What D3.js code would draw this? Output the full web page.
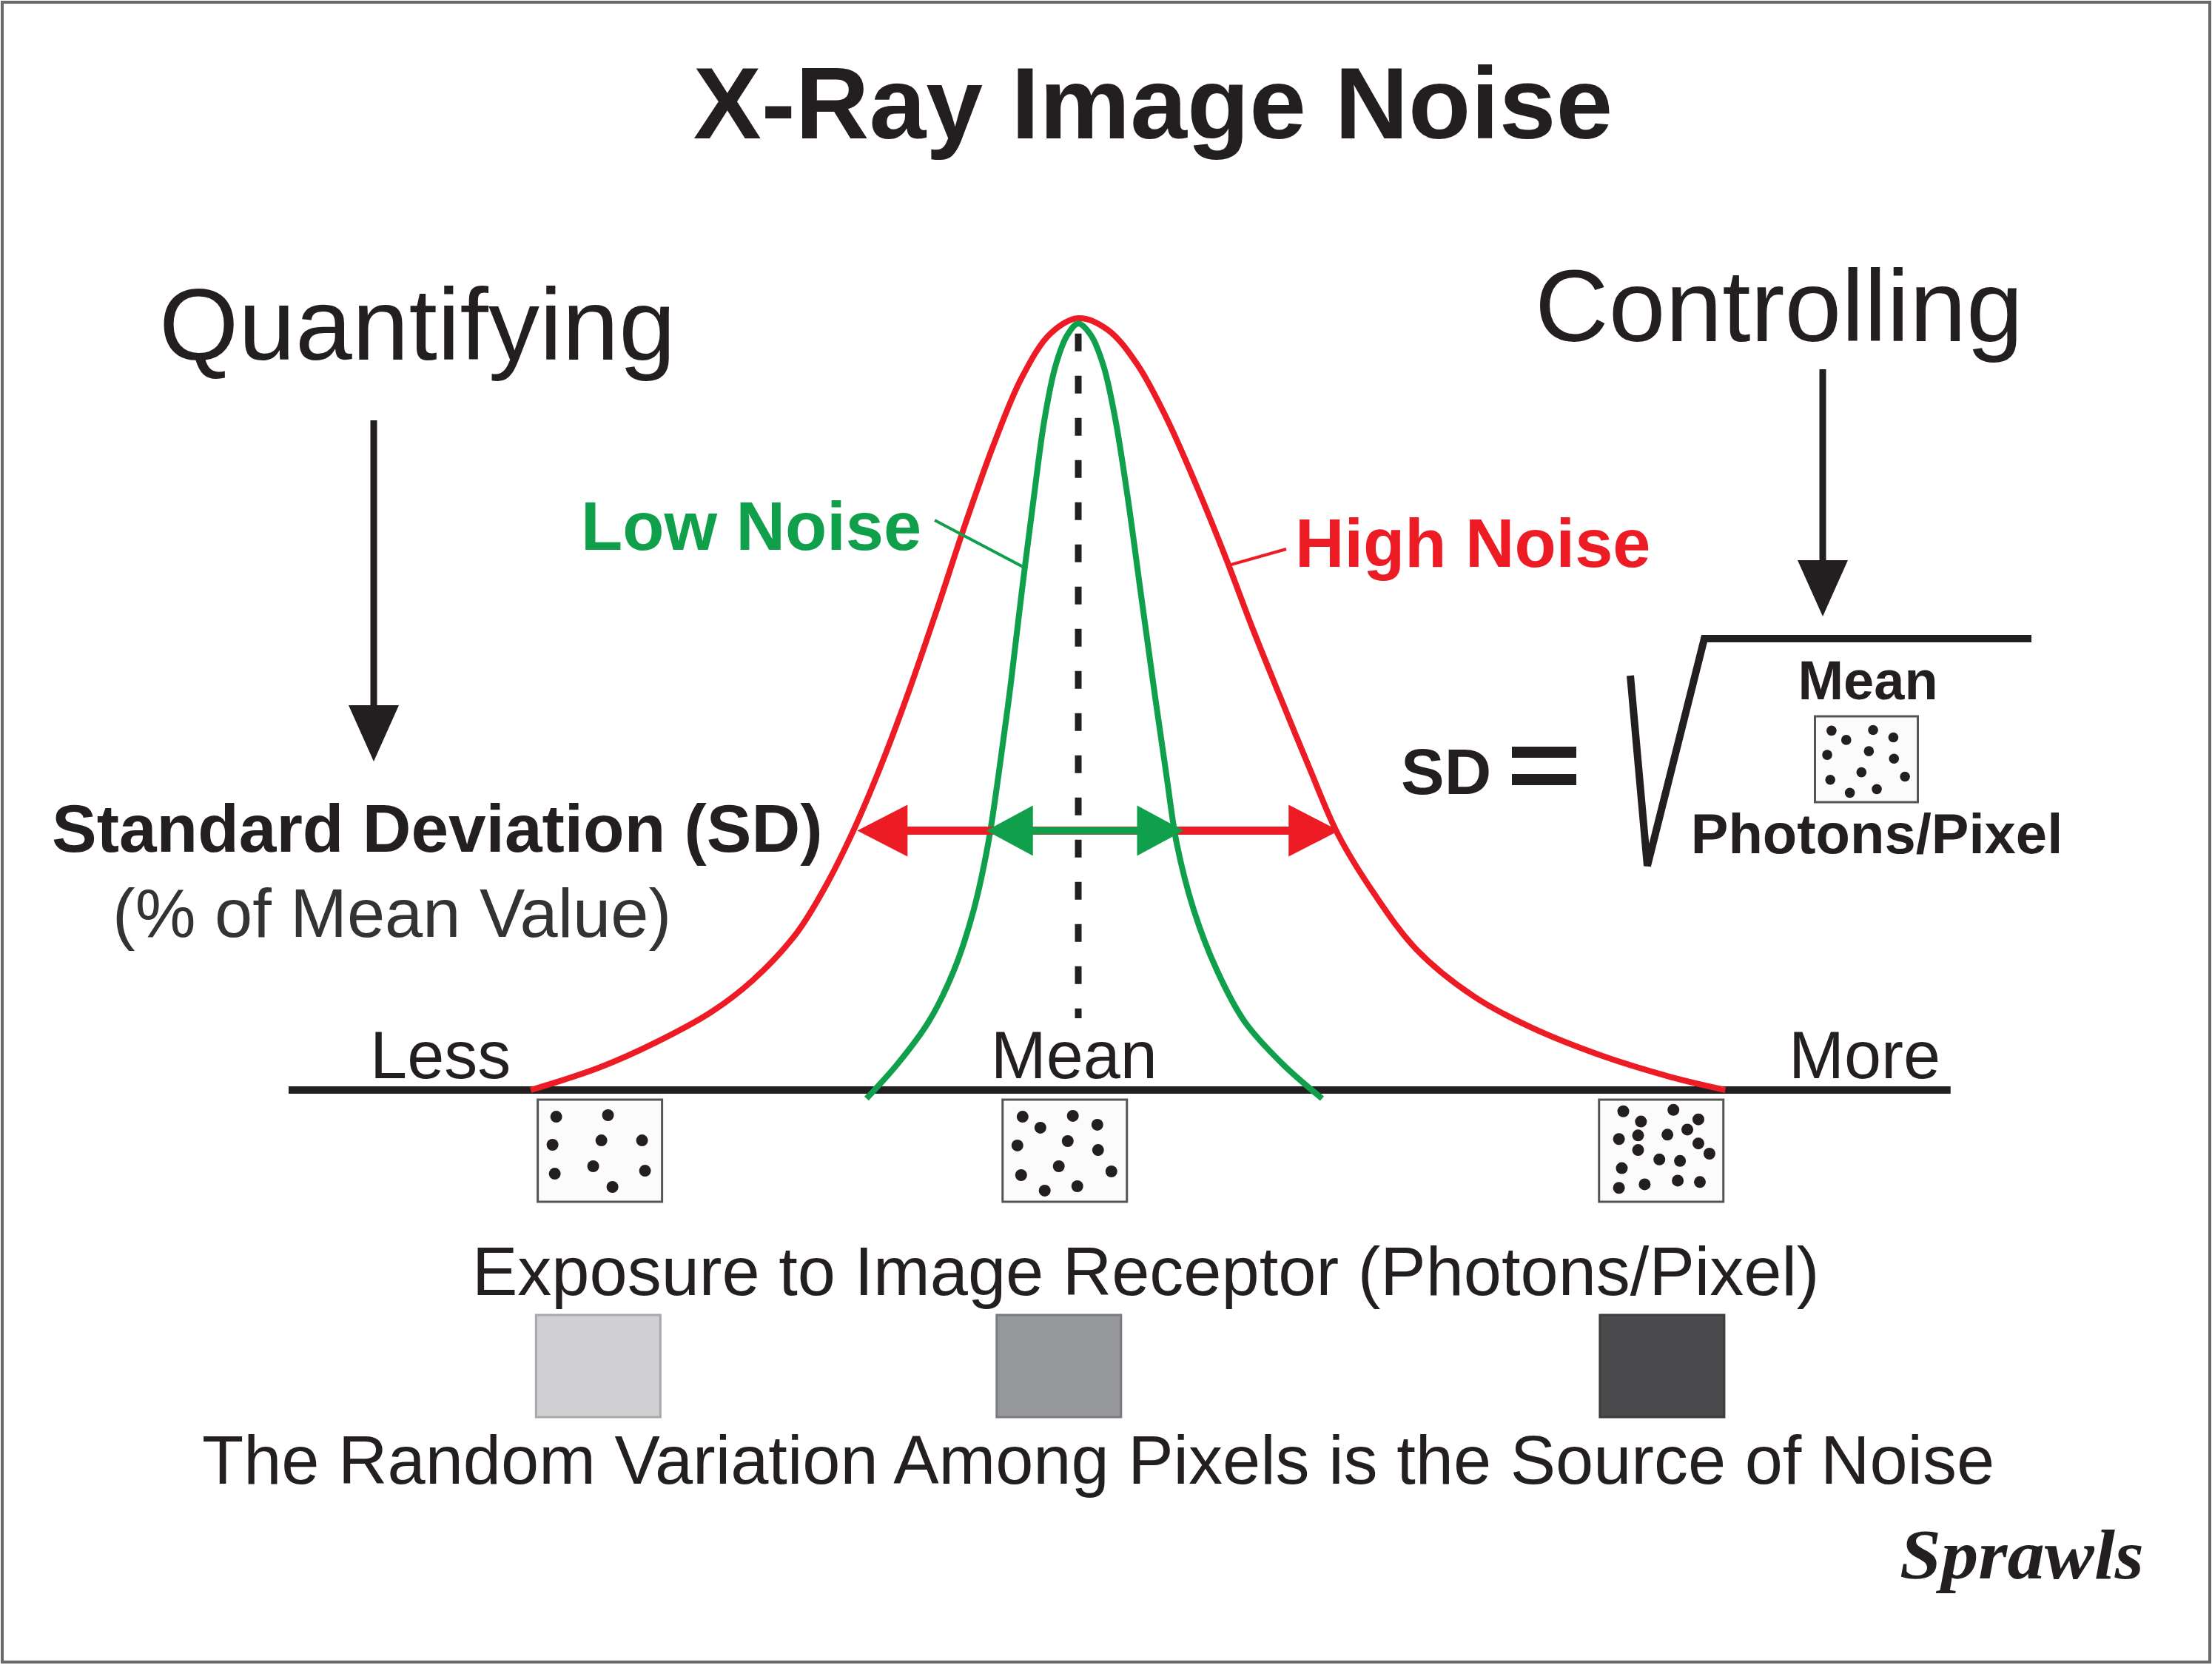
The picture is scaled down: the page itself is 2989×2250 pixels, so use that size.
<!DOCTYPE html>
<html>
<head>
<meta charset="utf-8">
<script src="https://cdn.jsdelivr.net/npm/d3@7"></script>
<style>
  body { margin: 0; background: #fff; }
  svg { display: block; }
</style>
</head>
<body>
<div id="chart"></div>
<script>
// exposure in photons/pixel (mean = 100) and relative frequency (% of peak)
const highNoiseExposure = [35.1, 43.2, 49.8, 56.5, 61.5, 66.6, 69.9, 73.3, 76.6, 79.9, 83.3, 86.6, 90.0, 93.3, 96.7, 100, 103.5, 107.0, 110.4, 113.9, 117.4, 120.7, 124.1, 127.3, 130.8, 135.1, 140.1, 146.8, 153.5, 161.9, 170.2, 176.7]
const highNoiseFreq = [0, 2.9, 6.1, 10.1, 14.3, 20.3, 26.1, 33.5, 42.0, 51.6, 62.4, 73.3, 83.7, 92.3, 98.0, 100, 98.5, 94.0, 87.2, 78.6, 69.2, 59.7, 50.5, 42.0, 33.1, 25.4, 18.2, 12.2, 8.2, 4.5, 1.7, 0]

const lowNoiseExposure = [74.9, 78.6, 82.3, 85.3, 87.6, 89.3, 90.6, 92.0, 93.3, 94.7, 96.0, 97.3, 98.7, 100, 101.5, 103.0, 104.4, 105.9, 107.4, 108.9, 110.4, 111.7, 113.7, 116.4, 119.7, 124.2, 128.9]
const lowNoiseFreq = [-1.1, 3.4, 8.9, 15.6, 23.3, 31.8, 41.2, 52.6, 64.5, 76.5, 86.9, 93.8, 97.8, 99.3, 97.8, 93.8, 86.9, 76.5, 64.5, 52.6, 41.2, 31.8, 23.3, 15.6, 8.9, 3.4, -1.1]

// standard deviation arrows (exposure at each end) and the level they are drawn at
const sdLevel = 33.6
const highNoiseSD = [73.8, 130.9]
const lowNoiseSD = [89.1, 112.5]
const meanExposure = 100
const meanLineFreq = [9.3, 98]

// the exposure axis
const axisExtent = [6.4, 203.4]
const axisLabels = ["Less", "Mean", "More"]
const axisLabelExposure = [24.4, 99.5, 193.2]

// sample pixel patches: Less / Mean / More exposure
const patchExposure = [43.3, 98.4, 169.1]
const grayExposure = [43.1, 97.7, 169.2]
const patchGrays = ["#d0d0d2", "#97989c", "#4b4b4d"]
const lessDots = [[14.9, 16.7], [56.5, 15.2], [11.9, 44.2], [51.2, 39.9], [83.9, 39.9], [13.7, 72.5], [44.6, 65.2], [86.3, 69.6], [60.1, 85.5]]
const meanDots = [[16.1, 16.7], [56.5, 15.9], [30.4, 27.5], [76.2, 24.6], [11.9, 44.9], [52.4, 40.6], [76.8, 49.3], [45.2, 65.2], [87.5, 70.3], [14.9, 73.9], [60.1, 84.8], [33.9, 89.1]]
const moreDots = [[19.5, 11.4], [59.8, 10.0], [33.7, 21.4], [79.9, 19.3], [16.0, 38.6], [31.4, 35.0], [55.0, 34.3], [71.0, 29.3], [79.9, 42.9], [31.4, 49.3], [88.8, 52.9], [48.5, 58.6], [65.1, 60.0], [18.3, 67.1], [63.3, 79.3], [81.1, 80.7], [16.0, 86.4], [36.7, 82.9]]
const patchDots = [lessDots, meanDots, moreDots]

const width = 2989
const height = 2250
const red = "#ed1c24"
const green = "#10a04b"
const ink = "#231f20"
const font = "'Liberation Sans', Arial, sans-serif"

const x = d3.scaleLinear().domain([0, 200]).range([317, 2597])
const y = d3.scaleLinear().domain([0, 100]).range([1473, 430])

const svg = d3.select("#chart").append("svg")
    .attr("width", width)
    .attr("height", height)
    .attr("viewBox", [0, 0, width, height])
    .style("font-family", font)

svg.append("rect")
    .attr("x", 3).attr("y", 3)
    .attr("width", width - 6).attr("height", height - 7)
    .attr("fill", "#fff")
    .attr("stroke", "#6a6a6a")
    .attr("stroke-width", 4)

// arrowhead helper: tip at (tx, ty), pointing along dir
function arrowHead(tx, ty, dx, dy, len, half) {
    const bx = tx - dx * len, by = ty - dy * len
    return `M${tx},${ty}L${bx - dy * half},${by + dx * half}L${bx + dy * half},${by - dx * half}Z`
}

function text(str, tx, ty, size, opts = {}) {
    return svg.append("text")
        .attr("x", tx).attr("y", ty)
        .attr("font-size", size)
        .attr("font-weight", opts.bold ? "bold" : "normal")
        .attr("text-anchor", opts.anchor || "start")
        .attr("fill", opts.fill || ink)
        .text(str)
}

// title and side headings
text("X-Ray Image Noise", 1558, 187, 138, { bold: true, anchor: "middle" })
text("Quantifying", 215, 486, 138)
text("Controlling", 2074, 461, 138)

// down arrows under the headings
const downArrows = [[505, 568, 1029], [2463, 499, 833]]
downArrows.forEach(([ax, y0, y1]) => {
    svg.append("line").attr("x1", ax).attr("x2", ax).attr("y1", y0).attr("y2", y1 - 60)
        .attr("stroke", ink).attr("stroke-width", 9)
    svg.append("path").attr("d", arrowHead(ax, y1, 0, 1, 76, 34)).attr("fill", ink)
})

text("Standard Deviation (SD)", 70, 1151, 91, { bold: true })
text("(% of Mean Value)", 152, 1266, 92, { fill: "#333" })

// exposure axis
svg.append("line")
    .attr("x1", x(axisExtent[0])).attr("x2", x(axisExtent[1]))
    .attr("y1", y(0)).attr("y2", y(0))
    .attr("stroke", ink).attr("stroke-width", 10)

svg.append("g").selectAll("text")
    .data(axisLabels)
    .join("text")
    .attr("x", (d, i) => x(axisLabelExposure[i]))
    .attr("y", y(0) - 16)
    .attr("text-anchor", "middle")
    .attr("font-size", 90)
    .attr("fill", ink)
    .text(d => d)

// distribution curves
const line = d3.line()
    .x(d => x(d[0]))
    .y(d => y(d[1]))
    .curve(d3.curveCatmullRom.alpha(0.5))

svg.append("path")
    .datum(d3.zip(highNoiseExposure, highNoiseFreq))
    .attr("d", line)
    .attr("fill", "none")
    .attr("stroke", red)
    .attr("stroke-width", 8)

svg.append("path")
    .datum(d3.zip(lowNoiseExposure, lowNoiseFreq))
    .attr("d", line)
    .attr("fill", "none")
    .attr("stroke", green)
    .attr("stroke-width", 8)

// mean line
svg.append("line")
    .attr("x1", x(meanExposure)).attr("x2", x(meanExposure))
    .attr("y1", y(meanLineFreq[1])).attr("y2", y(meanLineFreq[0]))
    .attr("stroke", ink)
    .attr("stroke-width", 9)
    .attr("stroke-dasharray", "24,33")

// SD arrows
function sdArrow(ends, color, len, half, thick) {
    const ay = y(sdLevel)
    svg.append("line")
        .attr("x1", x(ends[0]) + len - 2).attr("x2", x(ends[1]) - len + 2)
        .attr("y1", ay).attr("y2", ay)
        .attr("stroke", color).attr("stroke-width", thick)
    svg.append("path").attr("d", arrowHead(x(ends[0]), ay, -1, 0, len, half)).attr("fill", color)
    svg.append("path").attr("d", arrowHead(x(ends[1]), ay, 1, 0, len, half)).attr("fill", color)
}
sdArrow(highNoiseSD, red, 68, 35, 11)
sdArrow(lowNoiseSD, green, 63, 34, 10)

// curve labels with pointers
text("Low Noise", 785, 743, 92, { bold: true, fill: green })
svg.append("line").attr("x1", 1263).attr("y1", 703).attr("x2", x(93.6)).attr("y2", y(67.7))
    .attr("stroke", green).attr("stroke-width", 4)
text("High Noise", 1750, 766, 92, { bold: true, fill: red })
svg.append("line").attr("x1", 1738).attr("y1", 742).attr("x2", x(117.9)).attr("y2", y(68))
    .attr("stroke", red).attr("stroke-width", 4)

// pixel patch with dots
function patch(cx, top, w, h, dots, r) {
    const g = svg.append("g").attr("transform", `translate(${cx - w / 2},${top})`)
    g.append("rect").attr("width", w).attr("height", h)
        .attr("fill", "#fbfbfb").attr("stroke", "#555").attr("stroke-width", 3)
    g.selectAll("circle").data(dots).join("circle")
        .attr("cx", d => d[0] / 100 * w)
        .attr("cy", d => d[1] / 100 * h)
        .attr("r", r)
        .attr("fill", ink)
}
patchExposure.forEach((e, i) => patch(x(e), y(0) + 13, 168, 138, patchDots[i], 8))

text("Exposure to Image Receptor (Photons/Pixel)", 638, 1750, 92)

// gray level patches
svg.append("g").selectAll("rect")
    .data(grayExposure)
    .join("rect")
    .attr("x", d => x(d) - 84)
    .attr("y", 1777)
    .attr("width", 168)
    .attr("height", 138)
    .attr("fill", (d, i) => patchGrays[i])
    .attr("stroke", (d, i) => d3.color(patchGrays[i]).darker(0.6))
    .attr("stroke-width", 3)

text("The Random Variation Among Pixels is the Source of Noise", 273, 2005, 92)

// SD = sqrt(mean photons/pixel)
text("SD", 1893, 1073, 88, { bold: true })
svg.append("rect").attr("x", 2043).attr("y", 1009).attr("width", 87).attr("height", 15).attr("fill", ink)
svg.append("rect").attr("x", 2043).attr("y", 1046).attr("width", 87).attr("height", 15).attr("fill", ink)
svg.append("path")
    .attr("d", "M2203,913L2226,1170L2303,863L2745,863")
    .attr("fill", "none").attr("stroke", ink).attr("stroke-width", 10)
    .attr("stroke-linejoin", "miter")
text("Mean", 2524, 945, 74, { bold: true, anchor: "middle" })
patch(2522, 968, 139, 116, meanDots, 6.8)
text("Photons/Pixel", 2536, 1153, 76, { bold: true, anchor: "middle" })

// signature
svg.append("text")
    .attr("x", 2567).attr("y", 2133)
    .attr("font-family", "'Liberation Serif', 'DejaVu Serif', serif")
    .attr("font-style", "italic")
    .attr("font-weight", "bold")
    .attr("font-size", 96)
    .attr("textLength", 330)
    .attr("lengthAdjust", "spacingAndGlyphs")
    .attr("fill", ink)
    .text("Sprawls")
</script>
</body>
</html>
